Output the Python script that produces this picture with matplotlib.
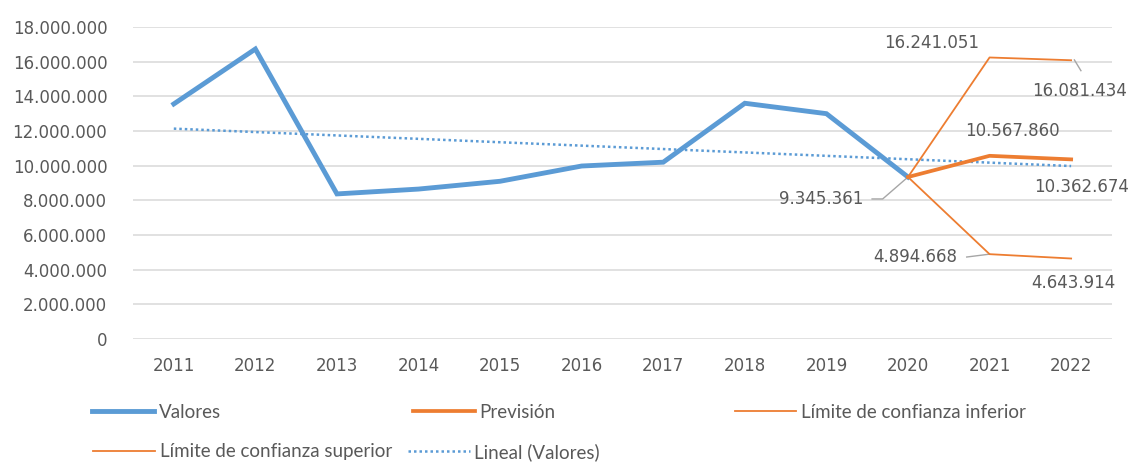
import numpy as np
import matplotlib
matplotlib.use("Agg")
import matplotlib.pyplot as plt
from matplotlib.lines import Line2D
from matplotlib.ticker import FuncFormatter

# data
years = ["2011", "2012", "2013", "2014", "2015", "2016",
         "2017", "2018", "2019", "2020", "2021", "2022"]
valores = [13560000, 16730000, 8370000, 8650000, 9100000, 9980000,
           10200000, 13600000, 13000000, 9345361]
prevision = [9345361, 10567860, 10362674]
lim_inferior = [9345361, 4894668, 4643914]
lim_superior = [9345361, 16241051, 16081434]

# data label text, (x, y) in data units for the label, optional leader
labels = [
    ("16.241.051", 9.29, 17.10e6, None),
    ("16.081.434", 11.10, 14.30e6, [(11.04, 16.10e6), (11.12, 15.48e6)]),
    ("10.567.860", 10.28, 12.00e6, None),
    ("10.362.674", 11.13, 8.77e6, None),
    ("9.345.361", 7.94, 8.08e6, [(8.56, 8.08e6), (8.69, 8.08e6), (9.0, 9.345361e6)]),
    ("4.894.668", 9.09, 4.73e6, [(9.72, 4.73e6), (10.0, 4.894668e6)]),
    ("4.643.914", 11.03, 3.23e6, None),
]

blue = "#5B9BD5"
orange = "#ED7D31"
grey_txt = "#595959"

x_all = np.arange(len(years))
x_val = x_all[:len(valores)]
x_fc = x_all[len(valores) - 1:]

# linear trend of Valores, extended over the forecast years
coef = np.polyfit(x_val, valores, 1)
trend = np.polyval(coef, x_all)

fig = plt.figure(figsize=(11.3, 4.63), dpi=100)
ax = fig.add_axes([0.1177, 0.2678, 0.8663, 0.6739])

ax.plot(x_all, trend, color=blue, lw=1.8, ls=(0, (1, 1.2)), zorder=2)
ax.plot(x_val, valores, color=blue, lw=3.5, solid_joinstyle="miter", zorder=3)
ax.plot(x_fc, lim_superior, color=orange, lw=1.3, zorder=3)
ax.plot(x_fc, lim_inferior, color=orange, lw=1.3, zorder=3)
ax.plot(x_fc, prevision, color=orange, lw=2.7, zorder=4)

for txt, lx, ly, leader in labels:
    ax.text(lx, ly, txt, ha="center", va="center", fontsize=12, color=grey_txt, zorder=5)
    if leader:
        xs = [p[0] for p in leader]
        ys = [p[1] for p in leader]
        ax.plot(xs, ys, color="#a6a6a6", lw=1.0, zorder=2)

ax.set_xlim(-0.5, 11.5)
ax.set_ylim(0, 18000000)
ax.set_yticks(np.arange(0, 18000001, 2000000))
ax.yaxis.set_major_formatter(FuncFormatter(lambda v, p: f"{int(v):,}".replace(",", ".")))
ax.set_xticks(x_all)
ax.set_xticklabels(years)
ax.grid(axis="y", color="#d9d9d9", lw=1.1)
ax.set_axisbelow(True)
for s in ax.spines.values():
    s.set_visible(False)
ax.tick_params(axis="y", length=0, pad=18.5, labelsize=12, labelcolor=grey_txt)
ax.tick_params(axis="x", length=0, pad=13, labelsize=12, labelcolor=grey_txt)

# legend, laid out like the original (two rows)
entries = [
    (Line2D([], [], color=blue, lw=3.5), "Valores", 0.0814, 0.110),
    (Line2D([], [], color=orange, lw=2.7), "Previsión", 0.3655, 0.110),
    (Line2D([], [], color=orange, lw=1.3), "Límite de confianza inferior", 0.650, 0.110),
    (Line2D([], [], color=orange, lw=1.3), "Límite de confianza superior", 0.0823, 0.024),
    (Line2D([], [], color=blue, lw=1.8, ls=(0, (1, 1.2))), "Lineal (Valores)", 0.361, 0.024),
]
for h, lab, lx, ly in entries:
    fig.legend([h], [lab], loc="center left", bbox_to_anchor=(lx, ly),
               frameon=False, borderpad=0, borderaxespad=0, handlelength=3.3,
               handletextpad=0.25, prop={"family": "Lato", "size": 13.5},
               labelcolor=grey_txt)

fig.savefig("out.png", dpi=100)
